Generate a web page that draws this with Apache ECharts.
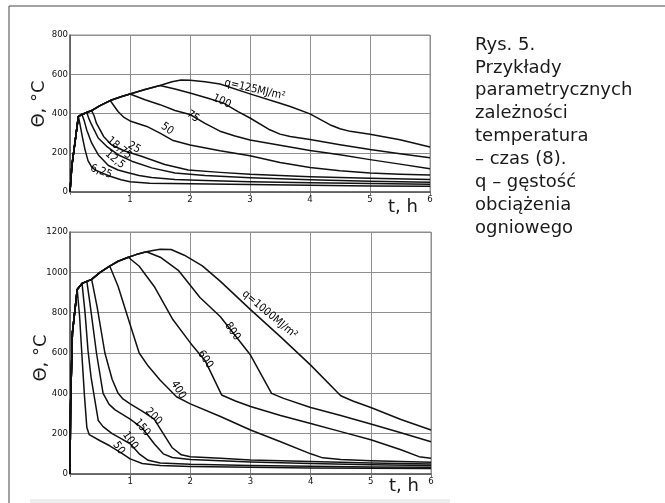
<!DOCTYPE html>
<html><head><meta charset="utf-8">
<script src="https://cdn.jsdelivr.net/npm/echarts@6/dist/echarts.min.js"></script>
<style>html,body{margin:0;padding:0;background:#fff}#c{width:665px;height:503px}</style>
</head><body><div id="c"></div>
<script>
// ---------- DATA ----------
const xTickLabels = ['', '1', '2', '3', '4', '5', '6'];
const topYTickLabels = ['0', '200', '400', '600', '800'];
const botYTickLabels = ['0', '200', '400', '600', '800', '1000', '1200'];

// top chart (q = 6.25 ... 125 MJ/m2)
const topRise = [[0,0],[0.03,130],[0.14,385]];
const topEnvelope = [[0.2,395],[0.28,405],[0.36,415],[0.5,440],[0.67,466],[0.85,485],[1.0,499],[1.25,522],[1.5,543],[1.7,562],[1.85,571]];
const top_q6_25 = [[0.14,385],[0.17,340],[0.2,290],[0.25,216],[0.3,160],[0.36,128],[0.42,112],[0.55,95],[0.67,80],[0.85,62],[1.0,52],[1.33,45],[2,42],[3,38],[4,34],[5,31],[6,29]];
const top_q12_5 = [[0.2,395],[0.24,360],[0.28,315],[0.36,250],[0.47,190],[0.64,135],[0.8,112],[0.97,98],[1.15,84],[1.36,74],[1.75,64],[2.25,58],[3,52],[4,47],[5,43],[6,40]];
const top_q18_75 = [[0.28,405],[0.32,370],[0.36,343],[0.47,275],[0.61,233],[0.8,190],[1.03,157],[1.36,123],[1.75,97],[2.25,84],[3,72],[4,62],[5,55],[6,50]];
const top_q25 = [[0.36,415],[0.4,390],[0.44,351],[0.56,283],[0.69,241],[0.9,210],[1.19,182],[1.58,140],[1.97,112],[2.5,100],[3,90],[4,78],[5,70],[6,64]];
const top_q50 = [[0.67,466],[0.8,410],[0.9,380],[1.0,362],[1.28,334],[1.5,300],[1.72,262],[2.0,240],[2.5,210],[3,185],[3.5,150],[4,125],[4.5,108],[5,97],[5.5,90],[6,86]];
const top_q75 = [[1.0,499],[1.25,470],[1.5,445],[1.75,415],[2.0,395],[2.25,350],[2.5,310],[2.75,285],[3,265],[3.5,238],[4,212],[4.5,190],[5,165],[5.5,142],[6,118]];
const top_q100 = [[1.5,543],[1.75,525],[2.0,504],[2.3,478],[2.56,453],[2.8,410],[3,377],[3.33,317],[3.5,295],[3.67,283],[4,267],[4.5,241],[5,216],[5.5,195],[6,174]];
const top_q125 = [[1.85,571],[2.0,570],[2.25,562],[2.5,550],[3,500],[3.5,452],[3.67,436],[4,398],[4.33,343],[4.5,322],[4.67,309],[5,294],[5.5,266],[6,229]];
const topCurveLabels = ['6,25','12,5','18,75','25','50','75','100','q=125MJ/m²'];
const topLabelAt = [[0.52,104],[0.75,165],[0.82,224],[1.07,226],[1.62,322],[2.05,385],[2.53,462],[3.08,522]];

// bottom chart (q = 50 ... 1000 MJ/m2)
const botRise = [[0,0],[0.01,350],[0.04,700],[0.12,915]];
const botEnvelope = [[0.2,945],[0.28,955],[0.36,965],[0.5,1000],[0.66,1031],[0.8,1055],[0.97,1075],[1.1,1088],[1.27,1102],[1.4,1110],[1.5,1114]];
const bot_q50 = [[0.12,915],[0.16,780],[0.2,580],[0.24,390],[0.28,230],[0.32,195],[0.5,165],[0.66,140],[0.85,105],[1.0,75],[1.2,52],[1.5,42],[2,37],[3,33],[4,30],[5,28],[6,27]];
const bot_q100 = [[0.2,945],[0.25,800],[0.3,610],[0.35,480],[0.4,390],[0.47,265],[0.55,235],[0.7,200],[0.85,175],[1.0,150],[1.15,100],[1.3,68],[1.5,55],[2,48],[3,42],[4,38],[5,35],[6,33]];
const bot_q150 = [[0.28,955],[0.33,850],[0.44,600],[0.55,400],[0.65,345],[0.75,318],[1.0,272],[1.2,228],[1.4,150],[1.55,100],[1.7,82],[2,72],[3,60],[4,52],[5,46],[6,42]];
const bot_q200 = [[0.36,965],[0.45,830],[0.58,600],[0.7,470],[0.8,400],[0.88,372],[1.0,348],[1.2,312],[1.4,272],[1.55,200],[1.7,130],[1.85,95],[2.0,86],[2.5,78],[3,70],[4,62],[5,55],[6,50]];
const bot_q400 = [[0.66,1031],[0.8,930],[1.0,740],[1.15,600],[1.3,535],[1.5,465],[1.77,383],[2.0,348],[2.5,285],[3.0,218],[3.5,160],[4.0,100],[4.2,80],[4.5,72],[5,66],[6,58]];
const bot_q600 = [[0.97,1075],[1.15,1030],[1.4,930],[1.7,770],[2.0,650],[2.25,560],[2.52,392],[2.75,362],[3.0,335],[3.5,290],[4.0,250],[4.5,210],[5.0,170],[5.5,120],[5.8,86],[6.0,78]];
const bot_q800 = [[1.27,1102],[1.5,1075],[1.8,1010],[2.16,875],[2.5,780],[3.0,590],[3.35,400],[3.55,375],[4.0,330],[4.5,290],[5.0,248],[5.5,205],[6.0,160]];
const bot_q1000 = [[1.5,1114],[1.68,1113],[1.9,1085],[2.2,1032],[2.5,955],[3.0,815],[3.5,680],[4.0,540],[4.5,388],[4.7,362],[5.0,330],[5.5,270],[6.0,218]];
const botCurveLabels = ['50','100','150','200','400','600','800','q=1000MJ/m²'];
const botLabelAt = [[0.81,129],[1.0,166],[1.2,230],[1.39,285],[1.8,417],[2.25,568],[2.7,707],[3.32,791]];

const captionLines = ['Rys. 5.','Przykłady','parametrycznych','zależności','temperatura','– czas (8).','q – gęstość','obciążenia','ogniowego'];

// ---------- BUILD ----------
function build(rise, env, decay) {
  const t0 = decay[0][0];
  return rise.filter(p => p[0] < t0).concat(env.filter(p => p[0] < t0), decay);
}
const topDecays = [top_q6_25, top_q12_5, top_q18_75, top_q25, top_q50, top_q75, top_q100, top_q125];
const botDecays = [bot_q50, bot_q100, bot_q150, bot_q200, bot_q400, bot_q600, bot_q800, bot_q1000];
const topRot = [-20,-40,-40,-30,-35,-35,-25,-13];
const botRot = [-55,-55,-50,-45,-60,-55,-55,-40];

const labelFont = 'DejaVu Sans Condensed, Liberation Sans Narrow, sans-serif';
function mkSeries(decays, rise, env, names, at, rots, idx) {
  return decays.map((d, i) => ({
    type: 'line', xAxisIndex: idx, yAxisIndex: idx,
    data: build(rise, env, d),
    showSymbol: false, smooth: false,
    lineStyle: { color: '#111', width: 1.5, join: 'round' },
    silent: true, z: 3,
    markPoint: {
      symbol: 'circle', symbolSize: 0, silent: true,
      label: { show: true, position: 'inside', formatter: names[i], rotate: rots[i],
               color: '#000', fontSize: 11, fontFamily: labelFont },
      data: [{ coord: at[i] }]
    }
  }));
}

const gridLine = { show: true, lineStyle: { color: '#8f8f8f', width: 1 } };
const axisLabelStyle = { fontSize: 9.5, color: '#111', fontFamily: labelFont };

function xAx(gi) {
  return { type: 'value', gridIndex: gi, min: 0, max: 6, interval: 1,
    axisLine: { show: true, lineStyle: { color: '#555', width: 1.5 } },
    axisTick: { show: true, length: 3, lineStyle: { color: '#777' } },
    axisLabel: Object.assign({ margin: 3, formatter: v => xTickLabels[v] }, axisLabelStyle),
    splitLine: gridLine };
}
function yAx(gi, max, labels) {
  return { type: 'value', gridIndex: gi, min: 0, max: max, interval: 200,
    axisLine: { show: true, lineStyle: { color: '#555', width: 1.5 } },
    axisTick: { show: false },
    axisLabel: Object.assign({ margin: 2, formatter: v => labels[v / 200] }, axisLabelStyle),
    splitLine: gridLine };
}

const chart = echarts.init(document.getElementById('c'), null, { renderer: 'canvas' });
chart.setOption({
  animation: false,
  backgroundColor: '#fff',
  grid: [
    { left: 70, top: 35, width: 360, height: 157, show: true, borderColor: '#8f8f8f', borderWidth: 1 },
    { left: 70, top: 232, width: 361, height: 242, show: true, borderColor: '#8f8f8f', borderWidth: 1 }
  ],
  xAxis: [xAx(0), xAx(1)],
  yAxis: [yAx(0, 800, topYTickLabels), yAx(1, 1200, botYTickLabels)],
  series: mkSeries(topDecays, topRise, topEnvelope, topCurveLabels, topLabelAt, topRot, 0)
    .concat(mkSeries(botDecays, botRise, botEnvelope, botCurveLabels, botLabelAt, botRot, 1)),
  graphic: [
    { type: 'line', shape: { x1: 9, y1: 6, x2: 665, y2: 6 }, style: { stroke: '#444', lineWidth: 1 } },
    { type: 'line', shape: { x1: 9, y1: 6, x2: 9, y2: 503 }, style: { stroke: '#444', lineWidth: 1 } },
    { type: 'rect', shape: { x: 30, y: 499, width: 420, height: 4 }, style: { fill: '#eeeeee' } },
    { type: 'text', x: 39, y: 104, rotation: Math.PI / 2,
      style: { text: 'Θ, °C', fontSize: 18, fill: '#1a1a1a', fontFamily: 'DejaVu Sans, sans-serif', align: 'center', verticalAlign: 'middle' } },
    { type: 'text', x: 41, y: 358, rotation: Math.PI / 2,
      style: { text: 'Θ, °C', fontSize: 18, fill: '#1a1a1a', fontFamily: 'DejaVu Sans, sans-serif', align: 'center', verticalAlign: 'middle' } },
    { type: 'text', x: 403, y: 207,
      style: { text: 't, h', fontSize: 18, fill: '#1a1a1a', fontFamily: 'DejaVu Sans, sans-serif', align: 'center', verticalAlign: 'middle' } },
    { type: 'text', x: 404, y: 486,
      style: { text: 't, h', fontSize: 18, fill: '#1a1a1a', fontFamily: 'DejaVu Sans, sans-serif', align: 'center', verticalAlign: 'middle' } },
    { type: 'text', x: 475, y: 33.5,
      style: { text: captionLines.join('\n'), fontSize: 18, lineHeight: 22.9, fill: '#1a1a1a', fontFamily: 'DejaVu Sans, sans-serif', align: 'left', verticalAlign: 'top' } }
  ]
});
</script></body></html>
